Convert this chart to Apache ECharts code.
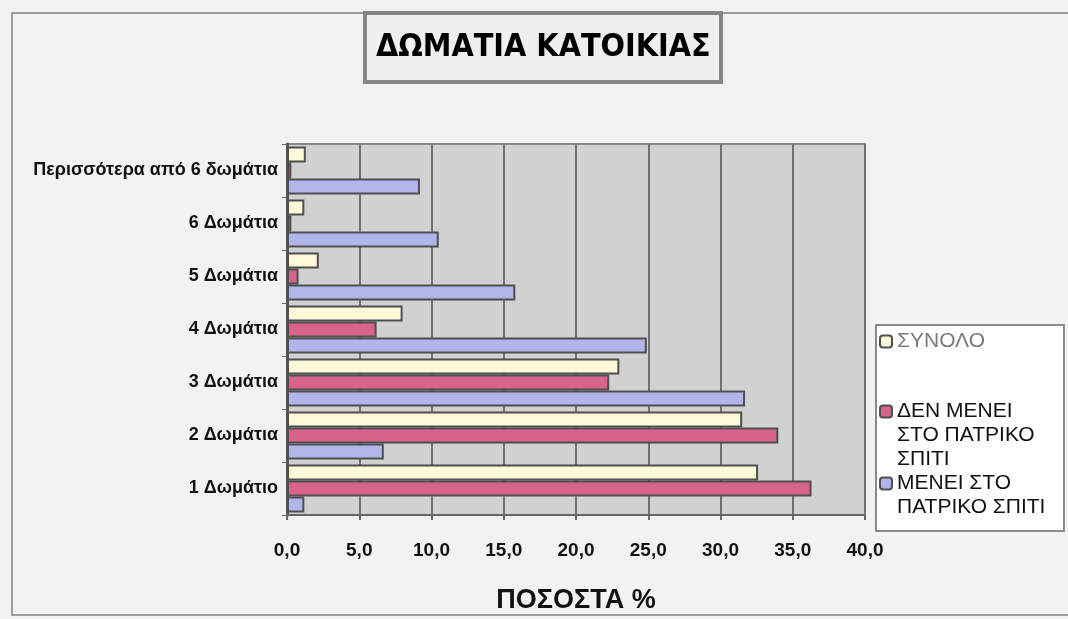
<!DOCTYPE html>
<html>
<head>
<meta charset="utf-8">
<title>ΔΩΜΑΤΙΑ ΚΑΤΟΙΚΙΑΣ</title>
<script src="https://cdn.jsdelivr.net/npm/echarts@6/dist/echarts.min.js"></script>
<style>
  html, body { margin: 0; padding: 0; background: #f2f2f2; }
  #chart { width: 1068px; height: 619px; }
</style>
</head>
<body>
<div id="chart"></div>
<script>
// values (percent)
const categories = ['1 Δωμάτιο', '2 Δωμάτια', '3 Δωμάτια', '4 Δωμάτια', '5 Δωμάτια', '6 Δωμάτια', 'Περισσότερα από 6 δωμάτια'];
const totalValues = [32.6, 31.5, 23.0, 8.0, 2.2, 1.2, 1.3];
const notParentalValues = [36.3, 34.0, 22.3, 6.2, 0.8, 0.3, 0.3];
const parentalValues = [1.2, 6.7, 31.7, 24.9, 15.8, 10.5, 9.2];
const xTickLabels = ['0,0', '5,0', '10,0', '15,0', '20,0', '25,0', '30,0', '35,0', '40,0'];
const seriesNames = ['ΣΥΝΟΛΟ', 'ΔΕΝ ΜΕΝΕΙ ΣΤΟ ΠΑΤΡΙΚΟ ΣΠΙΤΙ', 'ΜΕΝΕΙ ΣΤΟ ΠΑΤΡΙΚΟ ΣΠΙΤΙ'];
const legendLines = {
  'ΣΥΝΟΛΟ': ['ΣΥΝΟΛΟ'],
  'ΔΕΝ ΜΕΝΕΙ ΣΤΟ ΠΑΤΡΙΚΟ ΣΠΙΤΙ': ['ΔΕΝ ΜΕΝΕΙ', 'ΣΤΟ ΠΑΤΡΙΚΟ', 'ΣΠΙΤΙ'],
  'ΜΕΝΕΙ ΣΤΟ ΠΑΤΡΙΚΟ ΣΠΙΤΙ': ['ΜΕΝΕΙ ΣΤΟ', 'ΠΑΤΡΙΚΟ ΣΠΙΤΙ']
};

const font = '"Liberation Sans", Arial, sans-serif';
const barBorder = { borderColor: '#4f4f4f', borderWidth: 2 };
const legendText = { fontFamily: font, fontSize: 21, lineHeight: 24 };

const chart = echarts.init(document.getElementById('chart'), null, { renderer: 'canvas' });

// one legend per entry so that the icon sits on the first text line
function legendPart(name, top) {
  const lines = legendLines[name];
  const style = name === seriesNames[0] ? 'g' : 't';
  return {
    orient: 'vertical',
    left: 879,
    top: top,
    padding: 0,
    itemWidth: 12,
    itemHeight: 12,
    selectedMode: false,
    formatter: n => legendLines[n].map(l => '{' + style + '|' + l + '}').join('\n'),
    textStyle: {
      rich: {
        t: Object.assign({ color: '#111' }, legendText),
        g: Object.assign({ color: '#7a7a7a' }, legendText)
      }
    },
    data: [{ name: name, textStyle: { padding: [(lines.length - 1) * 24, 0, 0, 0] } }]
  };
}

chart.setOption({
  backgroundColor: '#f2f2f2',
  animation: false,
  title: {
    text: 'ΔΩΜΑΤΙΑ ΚΑΤΟΙΚΙΑΣ',
    left: 365,
    top: 13,
    padding: [13, 11, 12, 11],
    borderColor: '#858585',
    borderWidth: 4,
    backgroundColor: '#efefef',
    textStyle: {
      fontFamily: '"Liberation Sans Narrow", "DejaVu Sans Condensed", sans-serif',
      fontWeight: 'bold',
      fontSize: 32,
      lineHeight: 44,
      color: '#000'
    }
  },
  graphic: [
    {
      type: 'rect', z: -10, silent: true,
      shape: { x: 12, y: 13, width: 1060, height: 602 },
      style: { fill: 'none', stroke: '#9c9c9c', lineWidth: 2 }
    },
    {
      type: 'rect', z: -5, silent: true,
      shape: { x: 876, y: 325, width: 188, height: 206 },
      style: { fill: '#ffffff', stroke: '#8a8a8a', lineWidth: 2 }
    }
  ],
  legend: [
    legendPart(seriesNames[0], 331),
    legendPart(seriesNames[1], 401),
    legendPart(seriesNames[2], 473)
  ],
  grid: {
    left: 287,
    right: 203,
    top: 144,
    bottom: 102,
    show: true,
    backgroundColor: '#d1d1d1',
    borderColor: '#8a8a8a',
    borderWidth: 2
  },
  xAxis: {
    type: 'value',
    min: 0,
    max: 40,
    interval: 5,
    name: 'ΠΟΣΟΣΤΑ %',
    nameLocation: 'middle',
    nameGap: 72,
    nameTextStyle: { fontFamily: font, fontWeight: 'bold', fontSize: 27, color: '#111' },
    axisLine: { show: true, lineStyle: { color: '#666', width: 2 } },
    axisTick: { show: true, length: 5, lineStyle: { color: '#666', width: 2 } },
    axisLabel: {
      margin: 26,
      fontFamily: font,
      fontWeight: 'bold',
      fontSize: 19,
      color: '#111',
      formatter: v => xTickLabels[Math.round(v / 5)]
    },
    splitLine: { show: true, lineStyle: { color: '#707070', width: 2 } }
  },
  yAxis: {
    type: 'category',
    data: categories,
    axisLine: { show: true, lineStyle: { color: '#555', width: 3 } },
    axisTick: { show: true, length: 5, lineStyle: { color: '#666' } },
    axisLabel: { margin: 9, fontFamily: font, fontWeight: 'bold', fontSize: 18, color: '#111' }
  },
  series: [
    {
      name: seriesNames[0],
      type: 'bar',
      barWidth: 16,
      barGap: '0%',
      data: totalValues,
      itemStyle: Object.assign({ color: '#fbf9d8' }, barBorder)
    },
    {
      name: seriesNames[1],
      type: 'bar',
      barWidth: 16,
      barGap: '0%',
      data: notParentalValues,
      itemStyle: Object.assign({ color: '#d8648c' }, barBorder)
    },
    {
      name: seriesNames[2],
      type: 'bar',
      barWidth: 16,
      barGap: '0%',
      data: parentalValues,
      itemStyle: Object.assign({ color: '#b2b5ea' }, barBorder)
    }
  ]
});
</script>
</body>
</html>
